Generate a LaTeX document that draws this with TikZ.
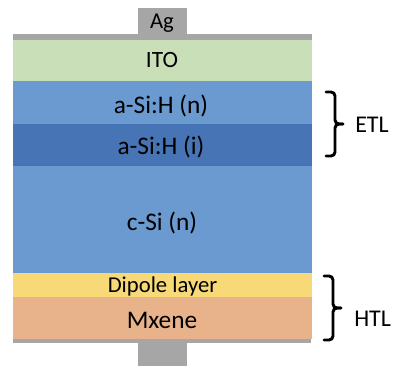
\documentclass[tikz,border=0pt]{standalone}
\usepackage{fontspec}
\setmainfont{Carlito}
\definecolor{agray}{HTML}{A6A6A6}
\definecolor{itog}{HTML}{C9DFB8}
\definecolor{sin}{HTML}{6A9AD0}
\definecolor{sii}{HTML}{4674B5}
\definecolor{dip}{HTML}{F7D978}
\definecolor{mx}{HTML}{E8B28A}
\tikzset{
  lbl/.style={inner sep=0pt, anchor=base, font=\fontsize{19}{21}\selectfont, text=black},
  brc/.style={draw=black, line width=2.2pt, rounded corners=3pt, line cap=round},
}
\begin{document}
\begin{tikzpicture}[x=0.75pt,y=-0.75pt]
\useasboundingbox (0,0) rectangle (396,366);
% contacts
\fill[agray] (138,8) rectangle (187,36);
\fill[agray] (13,34) rectangle (312,40);
\fill[agray] (13,338) rectangle (311,343);
\fill[agray] (138,343) rectangle (187,366);
% layers
\fill[itog] (13,40) rectangle (312,81);
\fill[sin] (13,81) rectangle (312,124);
\fill[sii] (13,124) rectangle (312,166);
\fill[sin] (13,166) rectangle (312,273);
\fill[dip] (13,273) rectangle (312,297);
\fill[mx] (13,297) rectangle (312,339);
% labels
\node[lbl, font=\fontsize{17}{19}\selectfont] (ag) at (162,29) {Ag};
\node[lbl, font=\fontsize{17.5}{19}\selectfont] (ito) at (162,68) {ITO};
\node[lbl] (asin) at (161,114) {a-Si:H (n)};
\node[lbl] (asii) at (161,155) {a-Si:H (i)};
\node[lbl] (csi) at (162,231) {c-Si (n)};
\node[lbl, font=\fontsize{17}{19}\selectfont] (dipl) at (162.5,293) {Dipole layer};
\node[lbl] (mxn) at (162,329) {Mxene};
% braces
\coordinate (e1) at (326,92);
\coordinate (e2) at (326,156);
\coordinate (h1) at (324,276);
\coordinate (h2) at (324,340);
\draw[brc] (e1) -- (335,92) -- (335,124) -- (343,124);
\draw[brc] (343,124) -- (335,124) -- (335,156) -- (e2);
\draw[brc] (h1) -- (333,276) -- (333,308) -- (341,308);
\draw[brc] (341,308) -- (333,308) -- (333,340) -- (h2);
\node[lbl, anchor=base west, font=\fontsize{18}{20}\selectfont] (etl) at (355,133) {ETL};
\node[lbl, anchor=base west, font=\fontsize{18}{20}\selectfont] (htl) at (354,327) {HTL};
\end{tikzpicture}
\end{document}
